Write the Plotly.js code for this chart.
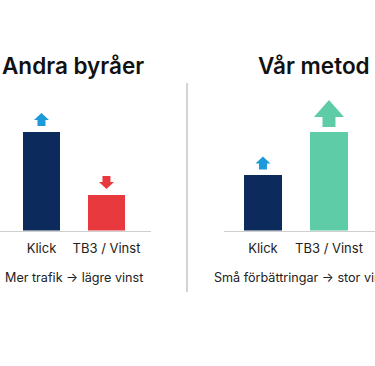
<!DOCTYPE html>
<html>
<head>
<meta charset="utf-8">
<script src="https://cdn.plot.ly/plotly-3.0.1.min.js"></script>
<style>html,body{margin:0;padding:0;background:#fff;}#chart{width:375px;height:366px;}</style>
</head>
<body>
<div id="chart"></div>
<script>
// ---- data ----
const categories = ["Klick", "TB3 / Vinst"];
const andraValues = [100, 36];
const varValues = [56, 100];
const andraArrows = ["up", "down"];
const varArrows = ["up", "up"];
const varArrowSizes = ["small", "large"];
const andraArrowSizes = ["small", "small"];
const panelTitles = ["Andra byråer", "Vår metod"];
const panelSubtitles = ["Mer trafik → lägre vinst", "Små förbättringar → stor vinst"];

// ---- styles ----
const NAVY = "#0c2a5c", RED = "#e8393f", GREEN = "#5ecca6", BLUE = "#1e9ad8";
const FONT = "Inter, 'Noto Sans', sans-serif";
const andraColors = [NAVY, RED];
const varColors = [NAVY, GREEN];
const andraArrowColors = [BLUE, RED];
const varArrowColors = [BLUE, GREEN];

const SIZES = {
  small: {g: 6, s: 6, h: 7, sw: 8, hw: 15},
  large: {g: 5, s: 10, h: 17, sw: 13, hw: 30}
};

function arrowPath(dir, size) {
  const {g, s, h, sw, hw} = SIZES[size];
  const a = sw / 2, b = hw / 2;
  if (dir === "up") {
    return `M${-a},${g} L${a},${g} L${a},${g + s} L${b},${g + s} L0,${g + s + h} L${-b},${g + s} L${-a},${g + s} Z`;
  }
  return `M0,${g} L${b},${g + h} L${a},${g + h} L${a},${g + h + s} L${-a},${g + h + s} L${-a},${g + h} L${-b},${g + h} Z`;
}

const traces = [
  {type: "bar", x: categories, y: andraValues, marker: {color: andraColors}, width: 0.58,
   xaxis: "x", yaxis: "y", hoverinfo: "skip"},
  {type: "bar", x: categories, y: varValues, marker: {color: varColors}, width: 0.58,
   xaxis: "x2", yaxis: "y2", hoverinfo: "skip"}
];

const shapes = [];
categories.forEach((c, i) => {
  shapes.push({type: "path", xref: "x", yref: "y", xsizemode: "pixel", ysizemode: "pixel",
    xanchor: c, yanchor: andraValues[i], path: arrowPath(andraArrows[i], andraArrowSizes[i]),
    fillcolor: andraArrowColors[i], line: {width: 0}});
  shapes.push({type: "path", xref: "x2", yref: "y2", xsizemode: "pixel", ysizemode: "pixel",
    xanchor: c, yanchor: varValues[i], path: arrowPath(varArrows[i], varArrowSizes[i]),
    fillcolor: varArrowColors[i], line: {width: 0}});
});
// divider
shapes.push({type: "line", xref: "paper", yref: "paper", x0: 0.4987, x1: 0.4987, y0: 0.202, y1: 0.773,
  line: {color: "#a8a8a8", width: 1}});

const yDomain = [0.3702, 0.7467];
const axisCommon = {type: "category", showline: true, linecolor: "#cfcfcf", linewidth: 1,
  showgrid: false, zeroline: false, ticks: "", fixedrange: true, ticklabelstandoff: 6,
  tickfont: {family: FONT, size: 13, color: "#222"}};
const yCommon = {range: [0, 140], domain: yDomain, visible: false, fixedrange: true};

const layout = {
  width: 375, height: 366,
  margin: {l: 0, r: 0, t: 0, b: 0},
  paper_bgcolor: "#fff", plot_bgcolor: "#fff",
  showlegend: false,
  bargap: 0,
  xaxis: Object.assign({}, axisCommon, {domain: [0, 0.4027], range: [-0.638, 1.685], anchor: "y"}),
  yaxis: Object.assign({}, yCommon, {anchor: "x"}),
  xaxis2: Object.assign({}, axisCommon, {domain: [0.5973, 1], range: [-0.59, 1.697], anchor: "y2"}),
  yaxis2: Object.assign({}, yCommon, {anchor: "x2"}),
  shapes: shapes,
  annotations: [
    {text: panelTitles[0], xref: "paper", yref: "paper", x: 73 / 375, y: 1 - 66 / 366,
     xanchor: "center", yanchor: "middle", showarrow: false,
     font: {family: FONT, size: 22.5, color: "#111", weight: 600}},
    {text: panelTitles[1], xref: "paper", yref: "paper", x: 314 / 375, y: 1 - 66 / 366,
     xanchor: "center", yanchor: "middle", showarrow: false,
     font: {family: FONT, size: 22.5, color: "#111", weight: 600}},
    {text: panelSubtitles[0], xref: "paper", yref: "paper", x: 3 / 375, y: 1 - 277 / 366,
     xanchor: "left", yanchor: "middle", showarrow: false,
     font: {family: FONT, size: 12.6, color: "#222"}},
    {text: panelSubtitles[1], xref: "paper", yref: "paper", x: 212 / 375, y: 1 - 277 / 366,
     xanchor: "left", yanchor: "middle", showarrow: false,
     font: {family: FONT, size: 12.6, color: "#222"}}
  ]
};

Plotly.newPlot("chart", traces, layout, {staticPlot: true, displayModeBar: false});
</script>
</body>
</html>
